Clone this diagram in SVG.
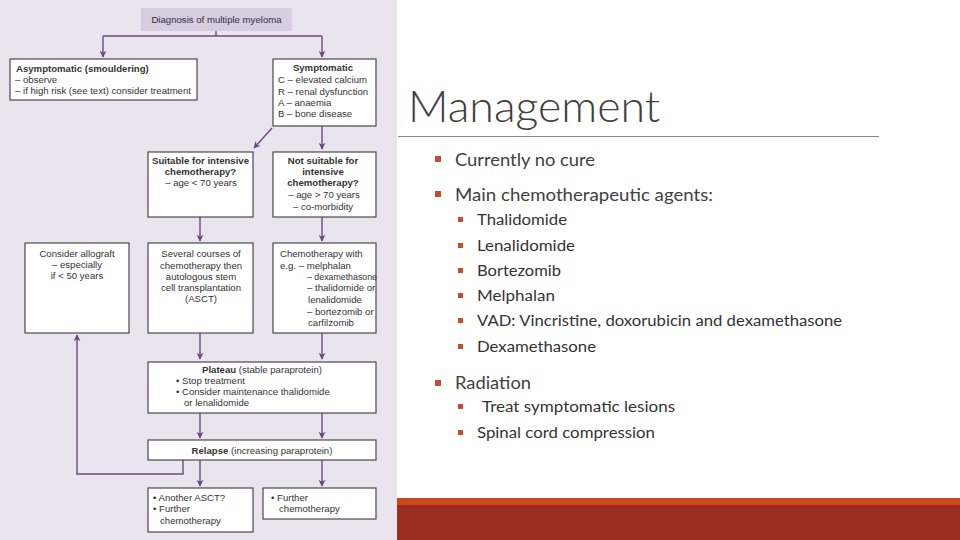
<svg xmlns="http://www.w3.org/2000/svg" width="960" height="540" viewBox="0 0 960 540">
<defs>
<marker id="ah" viewBox="0 0 10 10" refX="9" refY="5" markerWidth="7" markerHeight="7" markerUnits="userSpaceOnUse" orient="auto">
<path d="M0,0 L10,5 L0,10 L3,5 z" fill="#6b4a7b"/>
</marker>
<style>
.box{fill:#fff;stroke:#4a4a4a;stroke-width:1.2}
.t{font-family:"Liberation Sans",Arial,sans-serif;font-size:9.6px;fill:#333}
.b{font-weight:bold}
.c{text-anchor:middle}
.con{fill:none;stroke:#6b4a7b;stroke-width:1.4}
.h1{font-family:Lato,"Open Sans",sans-serif;font-weight:300;font-size:44px;fill:#404040}
.m{font-family:Lato,"Open Sans",sans-serif;font-size:18px;fill:#404040}
.s{font-family:Lato,"Open Sans",sans-serif;font-size:15.5px;fill:#333}
.bul{fill:#c0502c}
</style>
</defs>
<rect x="0" y="0" width="960" height="540" fill="#fff"/>
<rect x="0" y="0" width="397" height="540" fill="#e9e4ee"/>

<g id="connectors">
<path class="con" d="M216,31 V36"/>
<path class="con" d="M103,36 H322"/>
<path class="con" d="M103,36 V57" marker-end="url(#ah)"/>
<path class="con" d="M322,36 V57" marker-end="url(#ah)"/>
<path class="con" d="M272,128 L254,148" marker-end="url(#ah)"/>
<path class="con" d="M322,126 V149" marker-end="url(#ah)"/>
<path class="con" d="M200,217 V241" marker-end="url(#ah)"/>
<path class="con" d="M322,217 V241" marker-end="url(#ah)"/>
<path class="con" d="M200,333 V359" marker-end="url(#ah)"/>
<path class="con" d="M322,333 V359" marker-end="url(#ah)"/>
<path class="con" d="M200,413 V438" marker-end="url(#ah)"/>
<path class="con" d="M322,413 V438" marker-end="url(#ah)"/>
<path class="con" d="M200,460 V486" marker-end="url(#ah)"/>
<path class="con" d="M322,460 V486" marker-end="url(#ah)"/>
<path class="con" d="M183,460 V474 H77 V335" marker-end="url(#ah)"/>
</g>

<g id="diagnosis">
<rect x="141" y="8" width="151" height="23" fill="#d7cce0"/>
<text class="t c" x="216.5" y="22.5">Diagnosis of multiple myeloma</text>
</g>

<g id="asymptomatic">
<rect class="box" x="10" y="59" width="187" height="41"/>
<text class="t b" x="16" y="72">Asymptomatic (smouldering)</text>
<text class="t" x="15" y="83">– observe</text>
<text class="t" x="15" y="94">– if high risk (see text) consider treatment</text>
</g>

<g id="symptomatic">
<rect class="box" x="273" y="59" width="103" height="67"/>
<text class="t b c" x="323" y="71">Symptomatic</text>
<text class="t" x="278" y="83">C – elevated calcium</text>
<text class="t" x="278" y="95">R – renal dysfunction</text>
<text class="t" x="278" y="106">A – anaemia</text>
<text class="t" x="278" y="117">B – bone disease</text>
</g>

<g id="suitable">
<rect class="box" x="148" y="152" width="105" height="65"/>
<text class="t b c" x="200.5" y="164">Suitable for intensive</text>
<text class="t b c" x="200.5" y="175">chemotherapy?</text>
<text class="t c" x="201" y="186">– age &lt; 70 years</text>
</g>

<g id="not-suitable">
<rect class="box" x="273" y="152" width="103" height="65"/>
<text class="t b c" x="323" y="164">Not suitable for</text>
<text class="t b c" x="323" y="175">intensive</text>
<text class="t b c" x="323" y="186">chemotherapy?</text>
<text class="t c" x="324" y="198">– age &gt; 70 years</text>
<text class="t c" x="323" y="210">– co-morbidity</text>
</g>

<g id="allograft">
<rect class="box" x="25" y="243" width="104" height="90"/>
<text class="t c" x="77" y="257">Consider allograft</text>
<text class="t c" x="77" y="268">– especially</text>
<text class="t c" x="77" y="279">if &lt; 50 years</text>
</g>

<g id="asct">
<rect class="box" x="148" y="243" width="105" height="90"/>
<text class="t c" x="201" y="257">Several courses of</text>
<text class="t c" x="201" y="269">chemotherapy then</text>
<text class="t c" x="201" y="280">autologous stem</text>
<text class="t c" x="201" y="291">cell transplantation</text>
<text class="t c" x="201" y="302">(ASCT)</text>
</g>

<g id="chemo">
<rect class="box" x="273" y="243" width="103" height="90"/>
<text class="t" x="280" y="257">Chemotherapy with</text>
<text class="t" x="280" y="269">e.g. – melphalan</text>
<text class="t" x="307" y="280" textLength="70" lengthAdjust="spacingAndGlyphs">– dexamethasone</text>
<text class="t" x="307" y="291">– thalidomide or</text>
<text class="t" x="308" y="303">lenalidomide</text>
<text class="t" x="307" y="315">– bortezomib or</text>
<text class="t" x="308" y="326">carfilzomib</text>
</g>

<g id="plateau">
<rect class="box" x="148" y="362" width="228" height="51"/>
<text class="t" x="202" y="373"><tspan class="b">Plateau</tspan> (stable paraprotein)</text>
<text class="t" x="176" y="384">•  Stop treatment</text>
<text class="t" x="176" y="395">•  Consider maintenance thalidomide</text>
<text class="t" x="184" y="406">or lenalidomide</text>
</g>

<g id="relapse">
<rect class="box" x="148" y="440" width="228" height="20"/>
<text class="t c" x="262" y="454"><tspan class="b">Relapse</tspan> (increasing paraprotein)</text>
</g>

<g id="another-asct">
<rect class="box" x="148" y="488" width="105" height="44"/>
<text class="t" x="153" y="501">•  Another ASCT?</text>
<text class="t" x="153" y="512">•  Further</text>
<text class="t" x="160" y="524">chemotherapy</text>
</g>

<g id="further-chemo">
<rect class="box" x="263" y="488" width="113" height="31"/>
<text class="t" x="271" y="501">•  Further</text>
<text class="t" x="279" y="512">chemotherapy</text>
</g>

<g id="management">
<text class="h1" x="408" y="122" textLength="252" lengthAdjust="spacingAndGlyphs">Management</text>
<line x1="398" y1="136.5" x2="879" y2="136.5" stroke="#8a8a8a" stroke-width="1.2"/>
<rect class="bul" x="435" y="156" width="6" height="6"/>
<text class="m" x="455" y="166" textLength="140" lengthAdjust="spacingAndGlyphs">Currently no cure</text>
<rect class="bul" x="435" y="191" width="6" height="6"/>
<text class="m" x="455" y="201" textLength="258" lengthAdjust="spacingAndGlyphs">Main chemotherapeutic agents:</text>
<rect class="bul" x="458" y="217" width="5" height="5"/>
<text class="s" x="477" y="225" textLength="90" lengthAdjust="spacingAndGlyphs">Thalidomide</text>
<rect class="bul" x="458" y="243" width="5" height="5"/>
<text class="s" x="477" y="251" textLength="98" lengthAdjust="spacingAndGlyphs">Lenalidomide</text>
<rect class="bul" x="458" y="268" width="5" height="5"/>
<text class="s" x="477" y="276" textLength="84" lengthAdjust="spacingAndGlyphs">Bortezomib</text>
<rect class="bul" x="458" y="293" width="5" height="5"/>
<text class="s" x="477" y="301" textLength="78" lengthAdjust="spacingAndGlyphs">Melphalan</text>
<rect class="bul" x="458" y="318" width="5" height="5"/>
<text class="s" x="477" y="326" textLength="365" lengthAdjust="spacingAndGlyphs">VAD: Vincristine, doxorubicin and dexamethasone</text>
<rect class="bul" x="458" y="344" width="5" height="5"/>
<text class="s" x="477" y="352" textLength="119" lengthAdjust="spacingAndGlyphs">Dexamethasone</text>
<rect class="bul" x="435" y="380" width="6" height="6"/>
<text class="m" x="455" y="389" textLength="76" lengthAdjust="spacingAndGlyphs">Radiation</text>
<rect class="bul" x="458" y="404" width="5" height="5"/>
<text class="s" x="482" y="412" textLength="193" lengthAdjust="spacingAndGlyphs">Treat symptomatic lesions</text>
<rect class="bul" x="458" y="430" width="5" height="5"/>
<text class="s" x="477" y="438" textLength="178" lengthAdjust="spacingAndGlyphs">Spinal cord compression</text>
</g>

<g id="footer-band">
<rect x="397" y="498" width="563" height="42" fill="#9a2c20"/>
<rect x="397" y="498" width="563" height="7" fill="#c9491f"/>
</g>
</svg>
